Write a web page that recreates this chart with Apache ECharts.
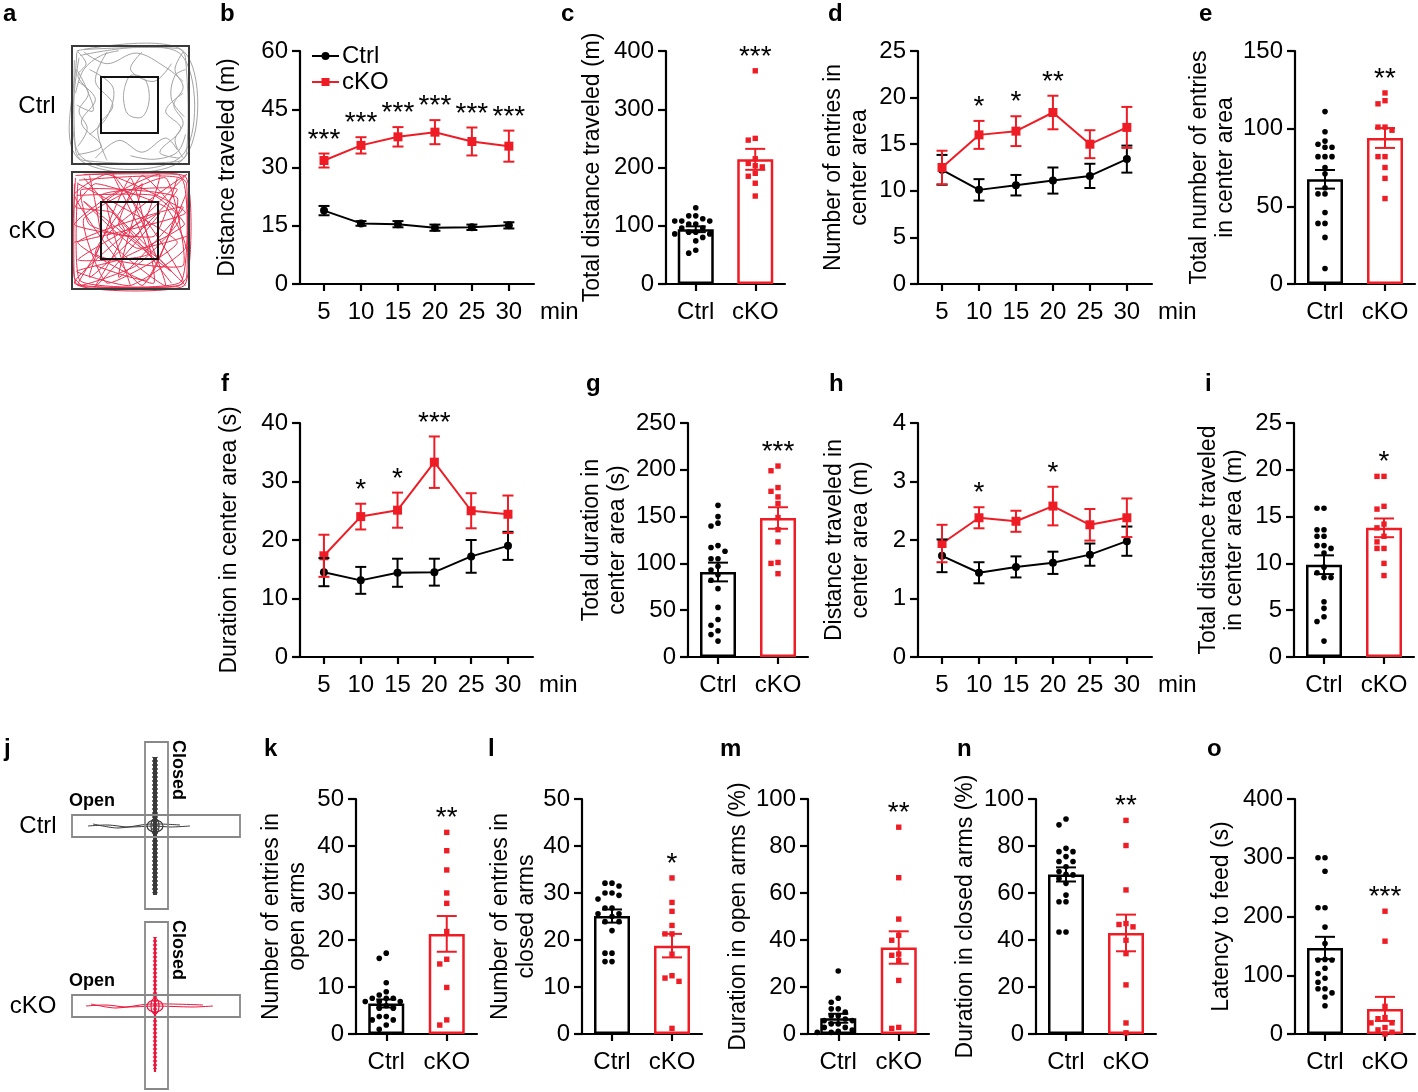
<!DOCTYPE html>
<html><head><meta charset="utf-8">
<script src="https://cdn.jsdelivr.net/npm/echarts@6/dist/echarts.min.js"></script>
<style>html,body{margin:0;padding:0;background:#fff}#c{width:1418px;height:1092px}</style>
</head><body><div id="c"></div><script>
const FONT = '"Liberation Sans", Arial, sans-serif';
const RED = '#ee1c25';
const FS = 24;      // tick / category label size
const NFS = 23;     // axis title size

// ---------- shared categories / ticks ----------
const minutes = [5, 10, 15, 20, 25, 30];
const groups = ['Ctrl', 'cKO'];

// ---------- b: distance traveled per 5 min ----------
const bCtrlMean = [18.9, 15.6, 15.4, 14.5, 14.6, 15.1];
const bCtrlSem  = [1.2, 0.6, 0.8, 0.8, 0.7, 0.8];
const bKoMean   = [31.8, 35.7, 37.9, 39.1, 36.7, 35.5];
const bKoSem    = [1.8, 2.1, 2.5, 3.1, 3.6, 4.0];
const bStars    = ['***', '***', '***', '***', '***', '***'];

// ---------- d: entries in center area ----------
const dCtrlMean = [12.25, 10.1, 10.6, 11.1, 11.6, 13.4];
const dCtrlSem  = [1.6, 1.15, 1.1, 1.4, 1.3, 1.45];
const dKoMean   = [12.5, 16.0, 16.4, 18.4, 15.0, 16.8];
const dKoSem    = [1.8, 1.5, 1.6, 1.8, 1.5, 2.2];
const dStars    = ['', '*', '*', '**', '', ''];

// ---------- f: duration in center area ----------
const fCtrlMean = [14.5, 13.1, 14.4, 14.5, 17.2, 19.0];
const fCtrlSem  = [2.4, 2.3, 2.4, 2.3, 2.8, 2.4];
const fKoMean   = [17.3, 24.0, 25.1, 33.3, 25.0, 24.4];
const fKoSem    = [3.6, 2.2, 3.0, 4.4, 3.0, 3.2];
const fStars    = ['', '*', '*', '***', '', ''];

// ---------- h: distance traveled in center area ----------
const hCtrlMean = [1.73, 1.44, 1.54, 1.61, 1.75, 1.98];
const hCtrlSem  = [0.28, 0.18, 0.18, 0.19, 0.19, 0.25];
const hKoMean   = [1.94, 2.38, 2.32, 2.58, 2.26, 2.38];
const hKoSem    = [0.32, 0.18, 0.18, 0.33, 0.27, 0.33];
const hStars    = ['', '*', '', '*', '', ''];

// ---------- bar panels: individual animals, mean, SEM ----------
const cCtrl = [131, 117, 117, 112, 108, 108, 108, 103, 103, 96, 96, 89, 89, 86, 86, 80, 74, 58, 53];
const cKo   = [366, 250, 247, 215, 207, 203, 201, 190, 185, 173, 151];
const cMean = [94, 214], cSem = [5, 18], cStar = '***';

const eCtrl = [111, 98, 92, 90, 88, 88, 82, 82, 82, 75, 71, 62, 58, 58, 46, 39, 39, 30, 10];
const eKo   = [123, 118, 116, 101, 101, 99, 82, 82, 75, 68, 55];
const eMean = [67.4, 94], eSem = [6, 6.4], eStar = '**';

const gCtrl = [162, 150, 143, 140, 119, 117, 113, 105, 105, 97, 93, 88, 82, 73, 53, 40, 34, 28, 24, 17];
const gKo   = [204, 199, 181, 177, 171, 164, 149, 136, 123, 101, 100, 89];
const gMean = [90.8, 148.5], gSem = [10, 11.5], gStar = '***';

const iCtrl = [15.9, 15.9, 13.6, 13.6, 12.9, 12.9, 11.9, 11.9, 11.6, 11.1, 9.6, 9.0, 8.5, 8.5, 5.9, 5.2, 4.3, 3.8, 1.7];
const iKo   = [19.3, 19.3, 16.1, 15.8, 14.2, 13.8, 12.9, 12.3, 11.6, 11.6, 10.0, 8.7];
const iMean = [9.86, 13.8], iSem = [1.0, 1.0], iStar = '*';

const kCtrl = [17.2, 16.1, 10.9, 9.0, 8.3, 7.6, 7.6, 7.6, 6.9, 6.9, 6.9, 6.0, 5.5, 5.5, 3.7, 3.7, 3.0, 3.0, 1.9, 1.0];
const kKo   = [42.9, 39.0, 34.9, 30.0, 27.8, 21.8, 15.9, 14.9, 9.9, 3.0, 1.9];
const kMean = [6.5, 21.3], kSem = [0.85, 3.8], kStar = '**';

const lCtrl = [32.1, 32.1, 31.5, 30.0, 30.0, 29.5, 28.7, 26.8, 26.8, 25.6, 25.6, 25.0, 23.9, 23.9, 22.0, 17.2, 17.2, 15.4, 15.4];
const lKo   = [33.2, 28.0, 26.1, 23.1, 21.3, 21.3, 17.0, 12.4, 11.9, 11.2, 1.2];
const lMean = [25.1, 18.8], lSem = [1.4, 2.5], lStar = '*';

const mCtrl = [26.8, 15.2, 13.5, 10.7, 10.7, 9.3, 7.8, 7.8, 6.4, 5.7, 5.7, 4.3, 4.3, 2.8, 2.8, 1.7, 1.2, 0.7, 0.7];
const mKo   = [88.0, 66.5, 48.9, 42.0, 39.9, 34.0, 33.5, 31.3, 22.8, 2.8, 2.4];
const mMean = [6.7, 36.8], mSem = [1.9, 6.9], mStar = '**';

const nCtrl = [91.5, 89, 79, 77.6, 77.6, 75.5, 73.4, 73.4, 71.2, 69.1, 68, 67.7, 66.2, 64.1, 59.1, 56.3, 56.3, 43.4, 43.4];
const nKo   = [90.9, 80.2, 61.3, 47, 46.6, 45.6, 39.9, 34.2, 20.9, 4.7, 0.5];
const nMean = [67.9, 43.0], nSem = [3, 7.8], nStar = '**';

const oCtrl = [300, 300, 277, 215, 215, 182, 154, 127, 126, 126, 112, 103, 95, 88, 77, 77, 70, 63, 48];
const oKo   = [209, 158, 47, 28, 26, 19, 19, 11, 7, 3, 0];
const oMean = [146.4, 42.7], oSem = [19, 20.5], oStar = '***';

// ---------- option building ----------
const option = {
  animation: false,
  backgroundColor: '#fff',
  textStyle: { fontFamily: FONT },
  grid: [], xAxis: [], yAxis: [], series: [], graphic: [],
  legend: {
    data: ['Ctrl', 'cKO'], orient: 'vertical', left: 306, top: 39, itemWidth: 27, itemHeight: 10,
    itemGap: 2, selectedMode: false,
    textStyle: { fontSize: FS, color: '#000', fontFamily: FONT, lineHeight: 24, padding: [0, 0, 0, -2] }
  }
};

const AX = { color: '#000', width: 2.2 };
function yAxisDef(gi, max, interval, name, gap) {
  return {
    type: 'value', gridIndex: gi, min: 0, max: max, interval: interval,
    name: name, nameLocation: 'middle', nameRotate: 90, nameGap: gap,
    nameTextStyle: { fontSize: NFS, color: '#000', lineHeight: 26, fontFamily: FONT },
    axisLine: { show: true, lineStyle: AX },
    axisTick: { show: true, length: 8, lineStyle: AX },
    axisLabel: { fontSize: FS, color: '#000', margin: 12, fontFamily: FONT },
    splitLine: { show: false }
  };
}
function starText(p, text) {
  return { type: 'text', style: { text: text, x: p[0], y: p[1], align: 'center', verticalAlign: 'middle',
    font: '28px ' + FONT, fill: '#000' } };
}
function errItem(top, bot, color, cap) {
  const st = { stroke: color, lineWidth: 2 };
  return { type: 'group', children: [
    { type: 'line', shape: { x1: top[0], y1: top[1], x2: bot[0], y2: bot[1] }, style: st },
    { type: 'line', shape: { x1: top[0] - cap / 2, y1: top[1], x2: top[0] + cap / 2, y2: top[1] }, style: st },
    { type: 'line', shape: { x1: bot[0] - cap / 2, y1: bot[1], x2: bot[0] + cap / 2, y2: bot[1] }, style: st }
  ] };
}

function addLinePanel(gi, rect, yMax, yInt, yName, gap, cm, cs, km, ks, stars, legendNames) {
  option.grid.push(Object.assign({ containLabel: false }, rect));
  option.xAxis.push({
    type: 'value', gridIndex: gi, min: 1.75, max: 33.4,
    name: 'min', nameLocation: 'end', nameGap: 6,
    nameTextStyle: { fontSize: FS, color: '#000', verticalAlign: 'top', padding: [16, 0, 0, 0], fontFamily: FONT },
    axisLine: { show: true, lineStyle: AX },
    axisTick: { show: true, length: 7, lineStyle: AX, customValues: minutes },
    axisLabel: { fontSize: FS, color: '#000', margin: 16, customValues: minutes, fontFamily: FONT, hideOverlap: false },
    splitLine: { show: false }
  });
  option.yAxis.push(yAxisDef(gi, yMax, yInt, yName, gap));
  const nm = legendNames || ['Ctrl' + gi, 'cKO' + gi];
  option.series.push({
    name: nm[0], type: 'line', xAxisIndex: gi, yAxisIndex: gi, z: 3,
    data: minutes.map((m, i) => [m, cm[i]]), symbol: 'circle', symbolSize: 8,
    itemStyle: { color: '#000' }, lineStyle: { color: '#000', width: 2 }
  });
  option.series.push({
    name: nm[1], type: 'line', xAxisIndex: gi, yAxisIndex: gi, z: 4,
    data: minutes.map((m, i) => [m, km[i]]), symbol: 'rect', symbolSize: 9,
    itemStyle: { color: RED }, lineStyle: { color: RED, width: 2 }
  });
  [[cm, cs, '#000', 5], [km, ks, RED, 6]].forEach(([mm, ss, col, z]) => {
    option.series.push({
      type: 'custom', xAxisIndex: gi, yAxisIndex: gi, z: z,
      data: minutes.map((m, i) => [m, mm[i], ss[i]]),
      renderItem: (params, api) => {
        const x = api.value(0), m = api.value(1), s = api.value(2);
        return errItem(api.coord([x, m + s]), api.coord([x, m - s]), col, 11);
      }
    });
  });
  option.series.push({
    type: 'custom', xAxisIndex: gi, yAxisIndex: gi, z: 7,
    data: minutes.map((m, i) => [m, km[i] + ks[i]]),
    renderItem: (params, api) => {
      const t = stars[params.dataIndex];
      if (!t) return null;
      const p = api.coord([api.value(0), api.value(1)]);
      return starText([p[0], p[1] - 13.5], t);
    }
  });
}

function swarmSeries(gi, cat, values, color, shape) {
  return {
    type: 'custom', xAxisIndex: gi, yAxisIndex: gi, z: 6,
    data: values.map(v => [cat, v]),
    renderItem: (params, api) => {
      const ctx = params.context;
      if (!ctx.pos) {
        const pts = values.map((v, i) => { const c = api.coord([cat, v]); return { i: i, x: c[0], y: c[1] }; });
        const order = pts.slice().sort((a, b) => a.y - b.y);
        const placed = [];
        const D = 7;
        order.forEach(p => {
          const cands = [0, -1, 1, -2, 2, -3, 3];
          for (const k of cands) {
            const x = p.x + k * D;
            if (placed.every(q => Math.hypot(q.x - x, q.y - p.y) >= 6.2)) { p.px = x; placed.push({ x: x, y: p.y }); break; }
          }
          if (p.px == null) p.px = p.x;
        });
        ctx.pos = {};
        pts.forEach(p => { ctx.pos[p.i] = [p.px, p.y]; });
      }
      const q = ctx.pos[params.dataIndex];
      if (shape === 'circle') return { type: 'circle', shape: { cx: q[0], cy: q[1], r: 2.8 }, style: { fill: color } };
      return { type: 'rect', shape: { x: q[0] - 2.7, y: q[1] - 2.7, width: 5.4, height: 5.4 }, style: { fill: color } };
    }
  };
}

function addBarPanel(gi, rect, yMax, yInt, yName, gap, ctrl, ko, mean, sem, star) {
  option.grid.push(Object.assign({ containLabel: false }, rect));
  option.xAxis.push({
    type: 'category', gridIndex: gi, data: groups, boundaryGap: true,
    axisLine: { show: true, lineStyle: AX },
    axisTick: { show: true, alignWithLabel: true, interval: 0, length: 7, lineStyle: AX },
    axisLabel: { fontSize: FS, color: '#000', margin: 16, interval: 0, hideOverlap: false, fontFamily: FONT },
    splitLine: { show: false }
  });
  option.yAxis.push(yAxisDef(gi, yMax, yInt, yName, gap));
  option.series.push({
    type: 'bar', xAxisIndex: gi, yAxisIndex: gi, barWidth: 36, z: 2,
    data: [
      { value: mean[0], itemStyle: { color: '#fff', borderColor: '#000', borderWidth: 2.5 } },
      { value: mean[1], itemStyle: { color: '#fff', borderColor: RED, borderWidth: 2.5 } }
    ]
  });
  option.series.push({
    type: 'custom', xAxisIndex: gi, yAxisIndex: gi, z: 5,
    data: [[0, mean[0], sem[0]], [1, mean[1], sem[1]]],
    renderItem: (params, api) => {
      const x = api.value(0), m = api.value(1), s = api.value(2);
      return errItem(api.coord([x, m + s]), api.coord([x, m - s]), params.dataIndex === 0 ? '#000' : RED, 20);
    }
  });
  option.series.push(swarmSeries(gi, 0, ctrl, '#000', 'circle'));
  option.series.push(swarmSeries(gi, 1, ko, RED, 'rect'));
  const top = Math.max(Math.max.apply(null, ko), mean[1] + sem[1]);
  option.series.push({
    type: 'custom', xAxisIndex: gi, yAxisIndex: gi, z: 7,
    data: [[1, top]],
    renderItem: (params, api) => {
      const p = api.coord([api.value(0), api.value(1)]);
      return starText([p[0], p[1] - 14], star);
    }
  });
}

// Row 1
addLinePanel(0, { left: 300, top: 51, width: 234, height: 233 }, 60, 15, 'Distance traveled (m)', 59,
  bCtrlMean, bCtrlSem, bKoMean, bKoSem, bStars, ['Ctrl', 'cKO']);
addBarPanel(1, { left: 666, top: 51, width: 119, height: 233 }, 400, 100, 'Total distance traveled (m)', 60,
  cCtrl, cKo, cMean, cSem, cStar);
addLinePanel(2, { left: 918, top: 51, width: 234, height: 233 }, 25, 5, 'Number of entries in\ncenter area', 45,
  dCtrlMean, dCtrlSem, dKoMean, dKoSem, dStars);
addBarPanel(3, { left: 1295, top: 51, width: 120, height: 233 }, 150, 50, 'Total number of entries\nin center area', 54,
  eCtrl, eKo, eMean, eSem, eStar);
// Row 2
addLinePanel(4, { left: 300, top: 423, width: 233, height: 234 }, 40, 10, 'Duration in center area (s)', 57,
  fCtrlMean, fCtrlSem, fKoMean, fKoSem, fStars);
addBarPanel(5, { left: 688, top: 423, width: 120, height: 234 }, 250, 50, 'Total duration in\ncenter area (s)', 57,
  gCtrl, gKo, gMean, gSem, gStar);
addLinePanel(6, { left: 918, top: 423, width: 234, height: 234 }, 4, 1, 'Distance traveled in\ncenter area (m)', 44,
  hCtrlMean, hCtrlSem, hKoMean, hKoSem, hStars);
addBarPanel(7, { left: 1294, top: 423, width: 120, height: 234 }, 25, 5, 'Total distance traveled\nin center area (m)', 46,
  iCtrl, iKo, iMean, iSem, iStar);
// Row 3
addBarPanel(8, { left: 356, top: 799, width: 121, height: 235 }, 50, 10, 'Number of entries in\nopen arms', 45,
  kCtrl, kKo, kMean, kSem, kStar);
addBarPanel(9, { left: 582, top: 799, width: 120, height: 235 }, 50, 10, 'Number of entries in\nclosed arms', 38,
  lCtrl, lKo, lMean, lSem, lStar);
addBarPanel(10, { left: 808, top: 799, width: 121, height: 235 }, 100, 20, 'Duration in open arms (%)', 52,
  mCtrl, mKo, mMean, mSem, mStar);
addBarPanel(11, { left: 1036, top: 799, width: 120, height: 235 }, 100, 20, 'Duration in closed arms (%)', 57,
  nCtrl, nKo, nMean, nSem, nStar);
addBarPanel(12, { left: 1295, top: 799, width: 120, height: 235 }, 400, 100, 'Latency to feed (s)', 60,
  oCtrl, oKo, oMean, oSem, oStar);

// ---------- graphics: panel letters, row labels, track illustrations ----------
const G = option.graphic;
const letters = [
  ['a', 3, 14.4], ['b', 220, 14.4], ['c', 561, 14.4], ['d', 828, 14.4], ['e', 1199, 14.4],
  ['f', 221, 384.7], ['g', 586, 384.7], ['h', 829, 384.7], ['i', 1205, 384.7],
  ['j', 4, 749.7], ['k', 264, 749.7], ['l', 488, 749.7], ['m', 720, 749.7], ['n', 957, 749.7], ['o', 1207, 749.7]
];
letters.forEach(([t, x, y]) => G.push({ type: 'text', x: x, y: y, z: 10,
  style: { text: t, font: 'bold 24px ' + FONT, fill: '#000', align: 'left', verticalAlign: 'middle' } }));
function label(t, x, y, font, rot) {
  G.push({ type: 'text', x: x, y: y, rotation: rot || 0, z: 10,
    style: { text: t, font: font, fill: '#000', align: 'center', verticalAlign: 'middle' } });
}
label('Ctrl', 37, 106, FS + 'px ' + FONT);
label('cKO', 32, 231, FS + 'px ' + FONT);
label('Ctrl', 38, 826, FS + 'px ' + FONT);
label('cKO', 33, 1006, FS + 'px ' + FONT);
label('Open', 92, 801, 'bold 18px ' + FONT);
label('Open', 92, 981, 'bold 18px ' + FONT);
label('Closed', 178, 770, 'bold 18px ' + FONT, -Math.PI / 2);
label('Closed', 178, 950, 'bold 18px ' + FONT, -Math.PI / 2);

// open-field track sketches (normalized within arena box)
const ctrlTracks = [
  [[.04,.04],[.96,.05],[.95,.96],[.05,.95],[.04,.06],[.06,.04]],
  [[.07,.08],[.93,.07],[.94,.93],[.08,.94],[.06,.1]],
  [[.02,.12],[.03,.88],[.1,.97],[.9,.98],[.98,.9],[.97,.1],[.9,.02],[.1,.03]],
  [[.1,.05],[.3,.15],[.55,.06],[.8,.18],[.95,.3]],
  [[.05,.3],[.2,.45],[.08,.65],[.25,.85],[.05,.92]],
  [[.95,.4],[.8,.55],[.93,.7],[.75,.9],[.92,.95]],
  [[.45,.35],[.5,.25],[.62,.28],[.66,.45],[.6,.6],[.48,.58],[.44,.45],[.45,.35]],
  [[.15,.2],[.35,.35],[.3,.6],[.15,.75]],
  [[.6,.05],[.5,.2],[.7,.3],[.85,.15]],
  [[.2,.95],[.4,.8],[.6,.9],[.8,.78],[.9,.88]],
  [[.04,.5],[.18,.55],[.12,.35],[.04,.2]],
  [[.96,.6],[.85,.45],[.88,.25],[.97,.2]],
  [[.03,.4],[.1,.2],[.25,.08],[.4,.04]],
  [[.97,.75],[.9,.9],[.7,.96],[.5,.93]],
  [[.3,.97],[.22,.7],[.35,.5],[.2,.3],[.3,.05]],
  [[.05,.05],[.12,.15],[.05,.25],[.14,.4],[.06,.55],[.13,.7],[.05,.85]],
  [[.95,.05],[.88,.2],[.95,.35],[.87,.5],[.95,.65],[.88,.8],[.95,.95]]
];
const koTracks = [
  [[.03,.03],[.97,.04],[.96,.97],[.04,.96],[.03,.05]],
  [[.06,.07],[.94,.06],[.93,.94],[.07,.93],[.05,.09]],
  [[.02,.1],[.02,.9],[.1,.98],[.9,.98],[.98,.9],[.98,.1],[.9,.02],[.1,.02]],
  [[.05,.1],[.9,.6],[.3,.95],[.1,.4],[.8,.05],[.95,.8],[.2,.7],[.6,.1],[.4,.9],[.95,.3],[.05,.6],[.7,.95],[.5,.05],[.15,.9],[.9,.15],[.25,.2],[.85,.85],[.1,.25],[.55,.65],[.98,.55]],
  [[.1,.05],[.45,.5],[.2,.98],[.75,.35],[.05,.75],[.65,.7],[.35,.02],[.95,.95],[.02,.95],[.6,.4],[.98,.02],[.3,.55],[.8,.97],[.45,.15],[.02,.45],[.7,.55],[.9,.05]],
  [[.04,.2],[.7,.2],[.96,.45],[.4,.75],[.04,.85],[.5,.97],[.97,.65],[.8,.3],[.2,.1],[.03,.3],[.35,.35],[.85,.95]],
  [[.15,.03],[.25,.6],[.05,.97],[.55,.8],[.92,.4],[.6,.03],[.4,.45],[.75,.75],[.97,.97]],
  [[.5,.97],[.3,.25],[.75,.02],[.55,.55],[.15,.45],[.08,.15],[.9,.22],[.65,.92],[.2,.8]],
  [[.02,.6],[.97,.35],[.3,.02],[.02,.2],[.6,.97],[.97,.2]]
];
function arena(x0, y0, w, h, ix0, iy0, iw, ih, tracks, color, smooth) {
  tracks.forEach(tr => G.push({ type: 'polyline', z: 1,
    shape: { points: tr.map(p => [x0 + p[0] * w, y0 + p[1] * h]), smooth: smooth },
    style: { stroke: color, lineWidth: 1, fill: null } }));
  G.push({ type: 'rect', z: 2, shape: { x: x0, y: y0, width: w, height: h }, style: { stroke: '#3a3a3a', lineWidth: 2, fill: null } });
  G.push({ type: 'rect', z: 2, shape: { x: ix0, y: iy0, width: iw, height: ih }, style: { stroke: '#111', lineWidth: 2, fill: null } });
}
arena(72, 46, 117, 118, 101, 77, 57, 56, ctrlTracks, '#a3a3a3', 0.35);
arena(72, 172, 117, 117, 101, 202, 57, 57, koTracks, '#e6304f', 0.15);

// elevated plus maze sketches
function plusMaze(cy, vTop, vBot, color, bandW, openL, openR) {
  G.push({ type: 'line', z: 1, shape: { x1: 155, y1: vTop, x2: 155, y2: vBot }, style: { stroke: color, lineWidth: bandW } });
  for (let pass = 0; pass < 2; pass++) {
    const pts = [];
    for (let y = vTop; y <= vBot; y += 4) pts.push([155 + ((Math.round((y - vTop) / 4) + pass) % 2 ? 1 : -1) * (bandW / 2 + 1), y]);
    G.push({ type: 'polyline', z: 1, shape: { points: pts }, style: { stroke: color, lineWidth: 0.8, fill: null } });
  }
  G.push({ type: 'polyline', z: 1, shape: { points: [[openL, cy], [openL + 20, cy - 1], [openL + 40, cy + 1], [155, cy], [openR - 20, cy + 1], [openR, cy]], smooth: 0.3 },
    style: { stroke: color, lineWidth: 1, fill: null } });
  G.push({ type: 'polyline', z: 1, shape: { points: [[openL + 5, cy - 2], [openL + 30, cy + 2], [150, cy - 2], [openR - 10, cy - 1]], smooth: 0.3 },
    style: { stroke: color, lineWidth: 1, fill: null } });
  G.push({ type: 'ellipse', z: 1, shape: { cx: 155, cy: cy, rx: 8, ry: 6 }, style: { stroke: color, lineWidth: 1.2, fill: null } });
  G.push({ type: 'ellipse', z: 1, shape: { cx: 155, cy: cy, rx: 4, ry: 8 }, style: { stroke: color, lineWidth: 1.2, fill: null } });
  G.push({ type: 'rect', z: 2, shape: { x: 145, y: cy - 84, width: 23, height: 167 }, style: { stroke: '#888', lineWidth: 1.8, fill: null } });
  G.push({ type: 'rect', z: 2, shape: { x: 72, y: cy - 11, width: 168, height: 22 }, style: { stroke: '#888', lineWidth: 1.8, fill: null } });
}
plusMaze(826, 757, 895, '#3a3a3a', 4, 88, 190);
plusMaze(1006, 937, 1072, '#e8163c', 2.2, 86, 213);

const chart = echarts.init(document.getElementById('c'), null, { renderer: 'canvas', width: 1418, height: 1092 });
chart.setOption(option);
</script></body></html>
